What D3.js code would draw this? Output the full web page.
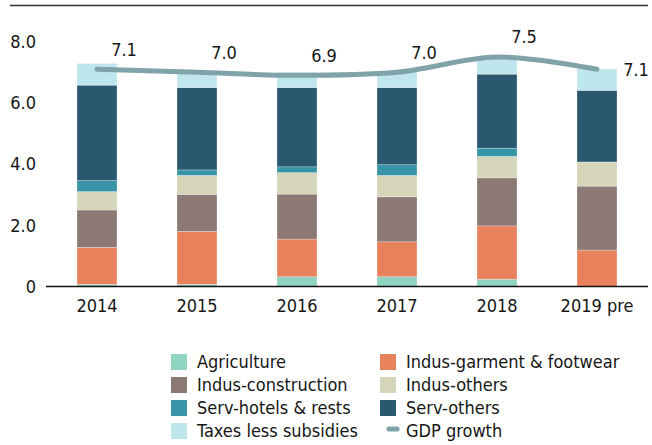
<!DOCTYPE html>
<html>
<head>
<meta charset="utf-8">
<script src="https://cdn.jsdelivr.net/npm/d3@7"></script>
<style>
  html, body { margin: 0; padding: 0; background: #fff; }
  svg text {
    font-family: "DejaVu Sans Condensed", "DejaVu Sans", sans-serif;
    font-stretch: condensed;
    font-size: 18px;
    fill: #161616;
  }
</style>
</head>
<body>
<svg id="chart" width="652" height="445"></svg>
<script>
// Contributions to GDP growth by sector (percentage points)
const years = ["2014", "2015", "2016", "2017", "2018", "2019 pre"];
const agriculture   = [0.07, 0.07, 0.32, 0.32, 0.24, 0.00];
const garment       = [1.21, 1.73, 1.23, 1.14, 1.74, 1.19];
const construction  = [1.22, 1.21, 1.47, 1.47, 1.57, 2.09];
const indusOthers   = [0.60, 0.62, 0.70, 0.70, 0.70, 0.79];
const hotels        = [0.36, 0.18, 0.19, 0.35, 0.27, 0.00];
const servOthers    = [3.12, 2.69, 2.59, 2.52, 2.42, 2.34];
const taxes         = [0.71, 0.52, 0.50, 0.54, 0.52, 0.70];
const gdpGrowth     = [7.1, 7.0, 6.9, 7.0, 7.5, 7.1];
const yTicks = [0, 2, 4, 6, 8];

const seriesNames = [
  "Agriculture", "Indus-garment & footwear", "Indus-construction", "Indus-others",
  "Serv-hotels & rests", "Serv-others", "Taxes less subsidies"
];
const seriesValues = [agriculture, garment, construction, indusOthers, hotels, servOthers, taxes];
const colors = ["#8fd3c1", "#e8825c", "#8c7874", "#d4d5b9", "#3795a7", "#2a586e", "#bfe5ed"];
const lineColor = "#7fa3a8";

const svg = d3.select("#chart");

const x = d3.scaleBand().domain(years).range([47, 647]).paddingInner(0.6).paddingOuter(0.3);
const y = d3.scaleLinear().domain([0, 8]).range([286.5, 41.7]);

// top rule
svg.append("line")
  .attr("x1", 10).attr("x2", 648).attr("y1", 5.5).attr("y2", 5.5)
  .attr("stroke", "#333").attr("stroke-width", 1.5);

// stacked bars
const rows = years.map((yr, i) => {
  const r = { year: yr };
  seriesNames.forEach((n, k) => { r[n] = seriesValues[k][i]; });
  return r;
});
const stack = d3.stack().keys(seriesNames)(rows);

const bw = 40;
svg.append("g").selectAll("g")
  .data(stack)
  .join("g")
  .attr("fill", (d, k) => colors[k])
  .selectAll("rect")
  .data(d => d)
  .join("rect")
  .attr("x", d => x(d.data.year) + x.bandwidth() / 2 - bw / 2)
  .attr("width", bw)
  .attr("y", d => y(d[1]))
  .attr("height", d => Math.max(0, y(d[0]) - y(d[1])))
  .attr("stroke", "#ffffff")
  .attr("stroke-opacity", 0.45)
  .attr("stroke-width", 0.6);

// y axis labels (no axis line)
const yAxis = d3.axisLeft(y).tickValues(yTicks)
  .tickFormat(d => d === 0 ? "0" : d3.format(".1f")(d))
  .tickSize(0).tickPadding(0);
const gy = svg.append("g").attr("transform", "translate(36,0)").call(yAxis);
gy.select(".domain").remove();
gy.selectAll("text").attr("font-size", null).attr("font-family", null).attr("fill", null);

// x axis
const xAxis = d3.axisBottom(x).tickSize(0).tickPadding(13);
const gx = svg.append("g").attr("transform", "translate(0,286.5)").call(xAxis);
gx.select(".domain").remove();
gx.selectAll("text").attr("font-size", null).attr("font-family", null).attr("fill", null);
svg.append("line")
  .attr("x1", 46).attr("x2", 648).attr("y1", 286.5).attr("y2", 286.5)
  .attr("stroke", "#111").attr("stroke-width", 1.5);

// GDP growth line
const cx = i => x(years[i]) + x.bandwidth() / 2;
const line = d3.line()
  .x((d, i) => cx(i))
  .y(d => y(d))
  .curve(d3.curveCatmullRom.alpha(0.5));
svg.append("path")
  .datum(gdpGrowth)
  .attr("d", line)
  .attr("fill", "none")
  .attr("stroke", lineColor)
  .attr("stroke-width", 5)
  .attr("stroke-linecap", "round");

// value labels: above-right of each point, the last one to the right of the line end
const last = gdpGrowth.length - 1;
svg.append("g").selectAll("text")
  .data(gdpGrowth)
  .join("text")
  .attr("x", (d, i) => i === last ? cx(i) + 39 : cx(i) + 27)
  .attr("y", (d, i) => i === last ? y(d) : y(d) - 20)
  .attr("text-anchor", "middle")
  .attr("dy", "0.35em")
  .text(d => d3.format(".1f")(d));

// legend
const legendItems = seriesNames.map((n, k) => ({ name: n, color: colors[k], type: "box" }))
  .concat([{ name: "GDP growth", color: lineColor, type: "line" }]);
const lg = svg.append("g");
const item = lg.selectAll("g")
  .data(legendItems)
  .join("g")
  .attr("transform", (d, i) => `translate(${i % 2 === 0 ? 171 : 380},${354 + Math.floor(i / 2) * 23})`);
item.filter(d => d.type === "box").append("rect")
  .attr("width", 16).attr("height", 16).attr("fill", d => d.color);
item.filter(d => d.type === "line").append("line")
  .attr("x1", 9).attr("x2", 17).attr("y1", 6).attr("y2", 6)
  .attr("stroke", d => d.color).attr("stroke-width", 5).attr("stroke-linecap", "round");
item.append("text")
  .attr("x", 26).attr("y", 8).attr("dy", "0.35em")
  .text(d => d.name);
</script>
</body>
</html>
